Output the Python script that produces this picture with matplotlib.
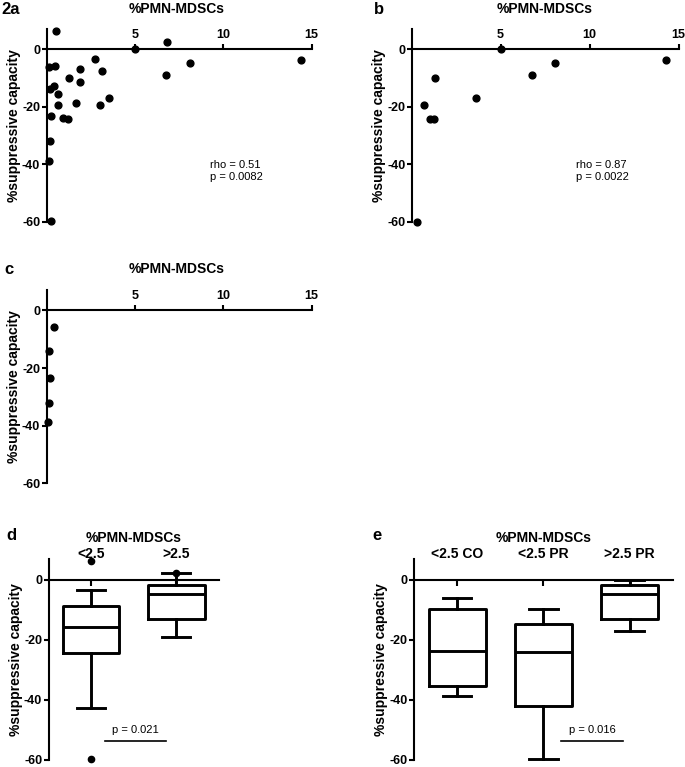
import matplotlib
matplotlib.use("Agg")
import matplotlib.pyplot as plt

plt.rcParams['font.family'] = ['Liberation Sans', 'DejaVu Sans']
plt.rcParams['axes.unicode_minus'] = False

# panel a: all patients
a_x = [0.55, 0.15, 0.5, 5.0, 6.8, 6.77, 8.1, 14.4, 2.76, 3.14, 1.88, 1.28, 1.92,
       0.4, 0.2, 0.64, 0.66, 1.67, 3.0, 3.55, 0.24, 0.96, 1.2, 0.19, 0.13, 0.26]
a_y = [6.3, -6.1, -5.8, 0.0, 2.4, -9.1, -4.7, -3.7, -3.5, -7.8, -6.8, -10.0, -11.6,
       -12.8, -14.0, -15.6, -19.6, -18.8, -19.4, -17.0, -23.1, -24.1, -24.3, -32.0, -38.9, -59.8]
# panel b: patients
b_x = [0.33, 0.72, 1.02, 1.26, 1.33, 3.6, 5.0, 6.76, 8.04, 14.3]
b_y = [-60.0, -19.4, -24.2, -24.4, -10.0, -17.0, 0.0, -9.1, -4.7, -3.8]
# panel c: controls
c_x = [0.45, 0.15, 0.2, 0.15, 0.1]
c_y = [-5.7, -13.9, -23.6, -32.0, -38.8]

# panel d boxes: whislo, q1, med, q3, whishi, fliers
d_labels = ['<2.5', '>2.5']
d_stats = [(-42.9, -24.4, -15.6, -8.6, -3.3, [6.3, -59.8]),
           (-19.2, -13.0, -4.8, -1.7, 2.4, [2.4])]
# panel e boxes
e_labels = ['<2.5 CO', '<2.5 PR', '>2.5 PR']
e_stats = [(-38.8, -35.6, -23.7, -9.7, -5.9, []),
           (-59.7, -42.2, -24.2, -14.6, -9.8, []),
           (-17.0, -12.9, -4.8, -1.8, 0.1, [])]

W, H = 685, 767
fig = plt.figure(figsize=(W / 100, H / 100), dpi=100)


def px_axes(left, right, top, bottom):
    return fig.add_axes([left / W, 1 - bottom / H, (right - left) / W, (bottom - top) / H])


def style(ax):
    for s in ['right', 'bottom']:
        ax.spines[s].set_visible(False)
    ax.spines['left'].set_linewidth(1.5)
    ax.spines['top'].set_linewidth(1.5)
    ax.spines['top'].set_position(('data', 0))
    ax.set_ylim(-60, 7)
    ax.set_yticks([-60, -40, -20, 0])
    ax.set_yticklabels(['-60', '-40', '-20', '0'], fontweight='bold', fontsize=9)
    ax.tick_params(axis='y', direction='out', length=3.5, width=1.5, pad=1)
    ax.xaxis.set_ticks_position('top')
    ax.set_ylabel('%suppressive capacity', fontweight='bold', fontsize=10, labelpad=1)
    ax.patch.set_visible(False)


def scatter_panel(ax, x, y):
    style(ax)
    ax.set_xlim(0, 15)
    ax.set_xticks([5, 10, 15])
    ax.set_xticklabels(['5', '10', '15'], fontweight='bold', fontsize=9)
    ax.tick_params(axis='x', direction='out', length=3.5, width=1.5, pad=2.5)
    ax.scatter(x, y, s=24, color='black', zorder=3, clip_on=False)


def box_panel(ax, stats, labels):
    style(ax)
    bxp = []
    for lo, q1, med, q3, hi, fl in stats:
        bxp.append(dict(whislo=lo, q1=q1, med=med, q3=q3, whishi=hi, fliers=fl))
    pos = list(range(1, len(stats) + 1))
    lp = dict(color='black', linewidth=2.1)
    ax.bxp(bxp, positions=pos, widths=0.66, showfliers=True,
           boxprops=lp, whiskerprops=lp, capprops=lp, medianprops=lp,
           flierprops=dict(marker='o', markerfacecolor='black', markeredgecolor='black',
                           markersize=4.5))
    ax.set_xlim(0.5, len(stats) + 0.5)
    ax.set_xticks(pos)
    ax.set_xticklabels(labels, fontweight='bold', fontsize=10)
    ax.tick_params(axis='x', direction='in', length=4, width=1.5, pad=14)
    for c in ax.get_children():
        if isinstance(c, matplotlib.lines.Line2D):
            c.set_clip_on(False)


ax_a = px_axes(46.5, 311.7, 28.9, 221.7)
scatter_panel(ax_a, a_x, a_y)
ax_b = px_axes(411.5, 678.5, 28.9, 221.7)
scatter_panel(ax_b, b_x, b_y)
ax_c = px_axes(46.5, 311.7, 290.3, 483.3)
scatter_panel(ax_c, c_x, c_y)
ax_d = px_axes(48.5, 219, 559, 759.5)
box_panel(ax_d, d_stats, d_labels)
ax_e = px_axes(414, 672.6, 559, 759.5)
box_panel(ax_e, e_stats, e_labels)

# significance bars
ax_d.plot([1.16, 1.88], [-53.7, -53.7], color='black', lw=1.2)
ax_d.text(1.52, -50.2, 'p = 0.021', ha='center', va='center', fontsize=8)
ax_e.plot([2.21, 2.93], [-53.7, -53.7], color='black', lw=1.2)
ax_e.text(2.57, -50.2, 'p = 0.016', ha='center', va='center', fontsize=8)


def fig_text(x, y, s, **kw):
    fig.text(x / W, 1 - y / H, s, **kw)


# panel letters and titles
fig_text(1, 9, '2a', fontsize=12, fontweight='bold', va='center')
fig_text(374, 9, 'b', fontsize=12, fontweight='bold', va='center')
fig_text(4, 269, 'c', fontsize=12, fontweight='bold', va='center')
fig_text(6, 536, 'd', fontsize=12, fontweight='bold', va='center')
fig_text(372, 536, 'e', fontsize=12, fontweight='bold', va='center')

title_kw = dict(fontsize=10, fontweight='bold', ha='center', va='center')
fig_text(177, 9, '%PMN-MDSCs', **title_kw)
fig_text(545, 9, '%PMN-MDSCs', **title_kw)
fig_text(177, 269, '%PMN-MDSCs', **title_kw)
fig_text(134, 538, '%PMN-MDSCs', **title_kw)
fig_text(544, 538, '%PMN-MDSCs', **title_kw)

# correlation stats
fig_text(210, 171, 'rho = 0.51\np = 0.0082', fontsize=8, va='center', linespacing=1.2)
fig_text(576, 171, 'rho = 0.87\np = 0.0022', fontsize=8, va='center', linespacing=1.2)

fig.savefig('out.png', dpi=100)
